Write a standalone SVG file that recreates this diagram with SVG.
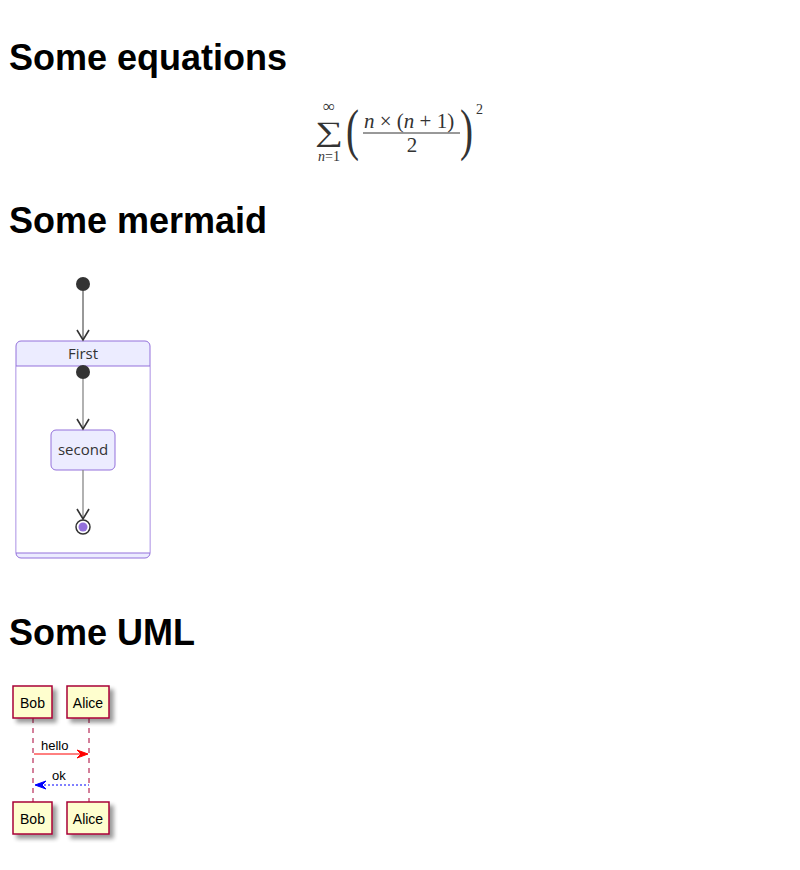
<svg xmlns="http://www.w3.org/2000/svg" width="800" height="870" viewBox="0 0 800 870">
<defs>
<style>
.h1{font-family:"Liberation Sans",Arial,sans-serif;font-weight:bold;font-size:36px;fill:#000}
.m{font-family:"Liberation Serif","DejaVu Serif",serif;fill:#333}
.mi{font-family:"Liberation Serif","DejaVu Serif",serif;font-style:italic;fill:#333}
.st{fill:#ECECFF;stroke:#9370DB;stroke-width:1}
.stt{font-family:"Open Sans","Liberation Sans",sans-serif;font-size:15px;fill:#333;text-anchor:middle}
.edge{stroke:#333;stroke-width:1;fill:none}
.edge2{stroke:#888;stroke-width:1.3;fill:none}
.part{fill:#FEFECE;stroke:#A80036;stroke-width:1.5}
.pt{font-family:"Liberation Sans",Arial,sans-serif;font-size:14px;fill:#000;text-anchor:middle}
.life{stroke:#A80036;stroke-width:1;stroke-dasharray:5,5;fill:none}
.msg{font-family:"Liberation Sans",Arial,sans-serif;font-size:13px;fill:#000}
</style>
<marker id="barb" markerWidth="14" markerHeight="14" refX="11" refY="7" orient="auto" markerUnits="userSpaceOnUse">
<path d="M1,1 L11,7 L1,13" fill="none" stroke="#333" stroke-width="1.6"/>
</marker>
<filter id="sh" x="-20%" y="-20%" width="160%" height="160%">
<feGaussianBlur in="SourceAlpha" stdDeviation="2"/>
<feOffset dx="4" dy="4"/>
<feComponentTransfer><feFuncA type="linear" slope="0.4"/></feComponentTransfer>
<feMerge><feMergeNode/><feMergeNode in="SourceGraphic"/></feMerge>
</filter>
</defs>
<rect width="800" height="870" fill="#fff"/>

<text class="h1" x="9" y="70">Some equations</text>
<g id="equation">
<text class="m" x="329" y="141" font-size="28" text-anchor="middle" transform="translate(329 141) scale(1.4 1) translate(-329 -141)">∑</text>
<text class="m" x="329" y="112" font-size="17" text-anchor="middle">∞</text>
<text x="329" y="161" font-size="14" text-anchor="middle"><tspan class="mi">n</tspan><tspan class="m">=1</tspan></text>
<text class="m" x="346" y="149" font-size="56" transform="translate(346 149) scale(0.7 1) translate(-346 -149)">(</text>
<text x="364" y="128" font-size="21"><tspan class="mi">n</tspan><tspan class="m"> × (</tspan><tspan class="mi">n</tspan><tspan class="m"> + 1)</tspan></text>
<line x1="363" y1="133" x2="460" y2="133" stroke="#333" stroke-width="1"/>
<text class="m" x="412" y="152" font-size="21" text-anchor="middle">2</text>
<text class="m" x="460" y="149" font-size="56" transform="translate(460 149) scale(0.7 1) translate(-460 -149)">)</text>
<text class="m" x="476" y="114" font-size="14">2</text>
</g>

<text class="h1" x="9" y="233">Some mermaid</text>
<g id="start">
<circle cx="83" cy="284" r="7" fill="#333"/>
</g>
<g id="First">
<rect class="st" x="16" y="341" width="134" height="217" rx="5"/>
<rect x="16.5" y="366" width="133" height="187" fill="#fff"/>
<line x1="16" y1="366" x2="150" y2="366" stroke="#9370DB"/>
<line x1="16" y1="553" x2="150" y2="553" stroke="#9370DB"/>
<text class="stt" x="83" y="359">First</text>
</g>
<g id="innerStart">
<circle cx="83" cy="372" r="7" fill="#333"/>
</g>
<g id="second">
<rect class="st" x="51" y="430" width="64" height="40" rx="5"/>
<text class="stt" x="83" y="455">second</text>
</g>
<g id="end">
<circle cx="83" cy="527" r="7" fill="#fff" stroke="#333" stroke-width="1.5"/>
<circle cx="83" cy="527" r="4.5" fill="#9370DB"/>
</g>
<g id="connectors">
<line class="edge" x1="83" y1="291" x2="83" y2="340" marker-end="url(#barb)"/>
<line class="edge2" x1="83" y1="379" x2="83" y2="429" marker-end="url(#barb)"/>
<line class="edge2" x1="83" y1="470" x2="83" y2="519" marker-end="url(#barb)"/>
</g>

<text class="h1" x="9" y="645">Some UML</text>
<g id="lifelines">
<line class="life" x1="33" y1="718" x2="33" y2="802"/>
<line class="life" x1="89" y1="718" x2="89" y2="802"/>
</g>
<g id="Bob">
<rect class="part" x="13" y="686" width="39" height="32" filter="url(#sh)"/>
<text class="pt" x="32.5" y="708">Bob</text>
</g>
<g id="Alice">
<rect class="part" x="67" y="686" width="42" height="32" filter="url(#sh)"/>
<text class="pt" x="88" y="708">Alice</text>
</g>
<g id="BobBottom">
<rect class="part" x="13" y="802" width="39" height="32" filter="url(#sh)"/>
<text class="pt" x="32.5" y="824">Bob</text>
</g>
<g id="AliceBottom">
<rect class="part" x="67" y="802" width="42" height="32" filter="url(#sh)"/>
<text class="pt" x="88" y="824">Alice</text>
</g>
<g id="messages">
<line x1="34" y1="754" x2="84" y2="754" stroke="#FF0000" stroke-width="1"/>
<polygon points="88,754 77,750 81,754 77,758" fill="#FF0000" stroke="#FF0000"/>
<text class="msg" x="41" y="750">hello</text>
<line x1="40" y1="785" x2="89" y2="785" stroke="#0000FF" stroke-width="1" stroke-dasharray="2,2"/>
<polygon points="35,785 46,781 42,785 46,789" fill="#0000FF" stroke="#0000FF"/>
<text class="msg" x="52" y="780">ok</text>
</g>
</svg>
